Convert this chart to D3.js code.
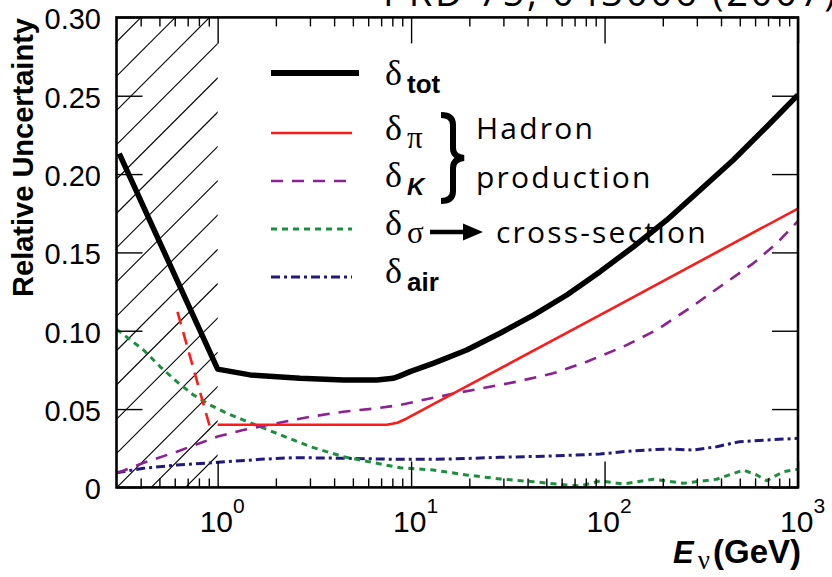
<!DOCTYPE html>
<html>
<head>
<meta charset="utf-8">
<script src="https://cdn.jsdelivr.net/npm/d3@7"></script>
<style>
  html, body { margin: 0; padding: 0; background: #fff; }
  svg { display: block; }
</style>
</head>
<body>
<svg id="chart" width="832" height="577"></svg>
<script>
// ---------------- data ----------------
// neutrino energy ticks (GeV)
const majorTicks = [1, 10, 100, 1000];
const minorTicks = [0.4, 0.5, 0.6, 0.7, 0.8, 0.9,
                    2, 3, 4, 5, 6, 7, 8, 9,
                    20, 30, 40, 50, 60, 70, 80, 90,
                    200, 300, 400, 500, 600, 700, 800, 900];
const xTickExponents = ["0", "1", "2", "3"];
const yTickValues = [0, 0.05, 0.10, 0.15, 0.20, 0.25, 0.30];
const yTickLabels = ["0", "0.05", "0.10", "0.15", "0.20", "0.25", "0.30"];

// [E_nu (GeV), relative uncertainty]
const deltaTot = [
  [0.31, 0.213], [1.0, 0.0755], [1.47, 0.0718], [2.67, 0.0696], [4.47, 0.0686],
  [6.65, 0.0686], [8.07, 0.0696], [8.77, 0.0712], [9.87, 0.0739], [13.0, 0.0792],
  [19.4, 0.0877], [28.8, 0.0984], [42.9, 0.110], [63.8, 0.1228], [94.8, 0.1377],
  [141, 0.1536], [210, 0.1707], [312, 0.1898], [463, 0.209], [689, 0.2302], [1000, 0.2505]
];
const deltaPiLowE = [[0.62, 0.112], [0.91, 0.039]];
const deltaPi = [
  [1.0, 0.040], [7.5, 0.040], [8.5, 0.0413], [9.5, 0.044], [20, 0.0654],
  [100, 0.1116], [1000, 0.178]
];
const deltaK = [
  [0.3, 0.009], [0.412, 0.0156], [0.615, 0.0228], [0.841, 0.029], [1.0, 0.0325],
  [1.355, 0.0366], [2.02, 0.041], [3.01, 0.0451], [4.46, 0.0483], [6.65, 0.0505],
  [8.77, 0.0526], [15.9, 0.0595], [23.2, 0.0632], [35.2, 0.0675], [54.3, 0.0728],
  [80.9, 0.0802], [125, 0.0898], [186, 0.1005], [282, 0.1153], [395, 0.1281],
  [587, 0.143], [776, 0.1558], [1000, 0.170]
];
const deltaSigma = [
  [0.3, 0.101], [0.414, 0.0877], [0.505, 0.077], [0.615, 0.0675], [0.750, 0.059],
  [0.915, 0.0526], [1.116, 0.0473], [1.36, 0.043], [1.66, 0.0387], [2.02, 0.0345],
  [3.01, 0.026], [4.47, 0.0196], [6.65, 0.0154], [8.77, 0.0125], [13.0, 0.0111],
  [19.4, 0.0079], [28.8, 0.0054], [42.9, 0.0036], [63.8, 0.0015], [74.7, 0.0009],
  [94.8, 0.0041], [125, 0.0022], [179, 0.0052], [255, 0.0026], [380, 0.0052],
  [522, 0.0111], [612, 0.0079], [689, 0.0043], [839, 0.010], [1000, 0.0116]
];
const deltaAir = [
  [0.3, 0.0094], [0.414, 0.0122], [0.615, 0.0143], [1.0, 0.016], [1.66, 0.0179],
  [2.47, 0.019], [4.47, 0.0186], [8.77, 0.0179], [15.9, 0.0181], [28.8, 0.0192],
  [52.1, 0.020], [94.8, 0.0213], [141, 0.0234], [210, 0.0245], [289, 0.0239],
  [380, 0.026], [500, 0.0292], [689, 0.0303], [1000, 0.0313]
];

// legend subscripts: [text, kind]
const legendSubs = [["tot", "bold"], ["π", "greek"], ["K", "bolditalic"], ["σ", "greek"], ["air", "bold"]];

// ---------------- layout ----------------
const svg = d3.select("#chart");
const plot = { left: 116.5, right: 798, top: 17.4, bottom: 487.4 };
const x = d3.scaleLog().domain([0.3, 1000]).range([plot.left, plot.right]);
const y = d3.scaleLinear().domain([0, 0.30]).range([plot.bottom, plot.top]);

const SANS = "'Liberation Sans', Arial, Helvetica, sans-serif";
const SERIF = "'Liberation Serif', 'Times New Roman', serif";
const WIDE = "'Open Sans', 'DejaVu Sans', sans-serif";

const defs = svg.append("defs");
defs.append("clipPath").attr("id", "plotClip")
  .append("rect").attr("x", plot.left).attr("y", plot.top)
  .attr("width", plot.right - plot.left).attr("height", plot.bottom - plot.top);
defs.append("clipPath").attr("id", "hatchClip")
  .append("rect").attr("x", plot.left).attr("y", plot.top)
  .attr("width", x(1) - plot.left).attr("height", plot.bottom - plot.top);

// publication reference (runs off the top edge)
svg.append("text")
  .attr("x", 383).attr("y", 6)
  .attr("font-family", WIDE).attr("font-size", 38)
  .attr("letter-spacing", 2.8)
  .text("PRD 75, 043006 (2007)");

// hatched region below 1 GeV
const hatch = svg.append("g").attr("clip-path", "url(#hatchClip)");
const hatchSpan = plot.bottom - plot.top;
for (let c = plot.left + 24.5; c < x(1) + hatchSpan; c += 34.3) {
  hatch.append("line")
    .attr("x1", c).attr("y1", plot.top)
    .attr("x2", c - hatchSpan - 10).attr("y2", plot.bottom + 10)
    .attr("stroke", "#000").attr("stroke-width", 1.1);
}

// curves
const line = d3.line().x(d => x(d[0])).y(d => y(d[1])).curve(d3.curveLinear);
const curves = svg.append("g").attr("clip-path", "url(#plotClip)").attr("fill", "none");

const styles = {
  tot:   { color: "#000000", width: 5.5, dash: null },
  pi:    { color: "#ff1a1a", width: 2.6, dash: null },
  piLow: { color: "#ff1a1a", width: 2.6, dash: "13,8" },
  K:     { color: "#8c2193", width: 2.6, dash: "12,9" },
  sigma: { color: "#1b8f3e", width: 3,   dash: "6,5" },
  air:   { color: "#21197d", width: 3,   dash: "9,4,3,4" }
};
function drawCurve(data, st) {
  curves.append("path").datum(data)
    .attr("d", line)
    .attr("stroke", st.color).attr("stroke-width", st.width)
    .attr("stroke-dasharray", st.dash)
    .attr("stroke-linejoin", "round");
}
drawCurve(deltaAir, styles.air);
drawCurve(deltaSigma, styles.sigma);
drawCurve(deltaK, styles.K);
drawCurve(deltaPiLowE, styles.piLow);
drawCurve(deltaPi, styles.pi);
drawCurve(deltaTot, styles.tot);

// axes: ticks point into the frame on all four sides
function styleAxis(g) {
  g.select(".domain").remove();
  g.selectAll(".tick line").attr("stroke", "#000").attr("stroke-width", 1.4);
}
const majorLen = 26, minorLen = 9;
svg.append("g").attr("transform", `translate(0,${plot.bottom})`)
  .call(d3.axisBottom(x).tickValues(majorTicks).tickSize(-majorLen).tickFormat("")).call(styleAxis);
svg.append("g").attr("transform", `translate(0,${plot.bottom})`)
  .call(d3.axisBottom(x).tickValues(minorTicks).tickSize(-minorLen).tickFormat("")).call(styleAxis);
svg.append("g").attr("transform", `translate(0,${plot.top})`)
  .call(d3.axisTop(x).tickValues(majorTicks).tickSize(-majorLen).tickFormat("")).call(styleAxis);
svg.append("g").attr("transform", `translate(0,${plot.top})`)
  .call(d3.axisTop(x).tickValues(minorTicks).tickSize(-minorLen).tickFormat("")).call(styleAxis);
svg.append("g").attr("transform", `translate(${plot.left},0)`)
  .call(d3.axisLeft(y).tickValues(yTickValues).tickSize(-majorLen).tickFormat("")).call(styleAxis);
svg.append("g").attr("transform", `translate(${plot.right},0)`)
  .call(d3.axisRight(y).tickValues(yTickValues).tickSize(-majorLen).tickFormat("")).call(styleAxis);

// frame
svg.append("rect")
  .attr("x", plot.left).attr("y", plot.top)
  .attr("width", plot.right - plot.left).attr("height", plot.bottom - plot.top)
  .attr("fill", "none").attr("stroke", "#000").attr("stroke-width", 2.6);

// y tick labels
svg.append("g").selectAll("text").data(yTickValues).join("text")
  .attr("x", 101).attr("y", d => y(d) + 2)
  .attr("text-anchor", "end").attr("dominant-baseline", "central")
  .attr("font-family", SANS).attr("font-size", 29)
  .text((d, i) => yTickLabels[i]);

// x tick labels: 10^n
const xl = svg.append("g").attr("font-family", SANS);
majorTicks.forEach((t, i) => {
  const txt = xl.append("text").attr("x", x(t) - 18).attr("y", 532).attr("font-size", 30);
  txt.append("tspan").text("10");
  txt.append("tspan").attr("dy", -19).attr("font-size", 21).text(xTickExponents[i]);
});

// axis titles
svg.append("text")
  .attr("transform", "translate(33,157.5) rotate(-90)")
  .attr("text-anchor", "middle")
  .attr("font-family", SANS).attr("font-weight", "bold").attr("font-size", 29)
  .text("Relative Uncertainty");

const xt = svg.append("text").attr("x", 801).attr("y", 563)
  .attr("text-anchor", "end").attr("font-family", SANS);
xt.append("tspan").attr("font-weight", "bold").attr("font-style", "italic").attr("font-size", 31).text("E");
xt.append("tspan").attr("dx", 4).attr("dy", 6).attr("font-family", SERIF).attr("font-size", 27).text("ν");
xt.append("tspan").attr("dx", 3).attr("dy", -6).attr("font-weight", "bold").attr("font-size", 33).text("(GeV)");

// legend
const legendRows = [
  { key: "tot",   ly: 73,  by: 85 },
  { key: "pi",    ly: 133, by: 140 },
  { key: "K",     ly: 181, by: 187 },
  { key: "sigma", ly: 229, by: 235 },
  { key: "air",   ly: 277, by: 283 }
];
const lg = svg.append("g");
legendRows.forEach((r, i) => {
  const st = styles[r.key];
  lg.append("line")
    .attr("x1", 271).attr("x2", r.key === "tot" ? 359 : 352)
    .attr("y1", r.ly).attr("y2", r.ly)
    .attr("stroke", st.color).attr("stroke-width", r.key === "tot" ? 6 : st.width)
    .attr("stroke-dasharray", st.dash);
  lg.append("text").attr("x", 385).attr("y", r.by)
    .attr("font-family", SERIF).attr("font-size", 36).text("δ");
  const [sub, kind] = legendSubs[i];
  const s = lg.append("text").attr("x", 407).attr("y", r.by + 8).text(sub);
  if (kind === "greek") s.attr("font-family", SERIF).attr("font-size", 31);
  else {
    s.attr("font-family", SANS).attr("font-weight", "bold").attr("font-size", kind === "bold" ? 26 : 24);
    if (kind === "bolditalic") s.attr("font-style", "italic");
  }
});

// brace grouping pi and K
lg.append("path")
  .attr("d", "M441,115 Q453,115 453,125 L453,148 Q453,157 464,158 Q453,159 453,168 L453,191 Q453,201 441,201")
  .attr("fill", "none").attr("stroke", "#000").attr("stroke-width", 6);

// arrow from sigma to its label
lg.append("line").attr("x1", 430).attr("x2", 466).attr("y1", 232).attr("y2", 232)
  .attr("stroke", "#000").attr("stroke-width", 4.5);
lg.append("path").attr("d", "M463,223.5 L483,232 L463,240.5 Z").attr("fill", "#000");

const wideText = (tx, ty, str) => lg.append("text")
  .attr("x", tx).attr("y", ty)
  .attr("font-family", WIDE).attr("font-size", 30).attr("letter-spacing", 2.2)
  .text(str);
wideText(476, 139, "Hadron");
wideText(476, 188, "production");
wideText(496, 243, "cross-section");
</script>
</body>
</html>
